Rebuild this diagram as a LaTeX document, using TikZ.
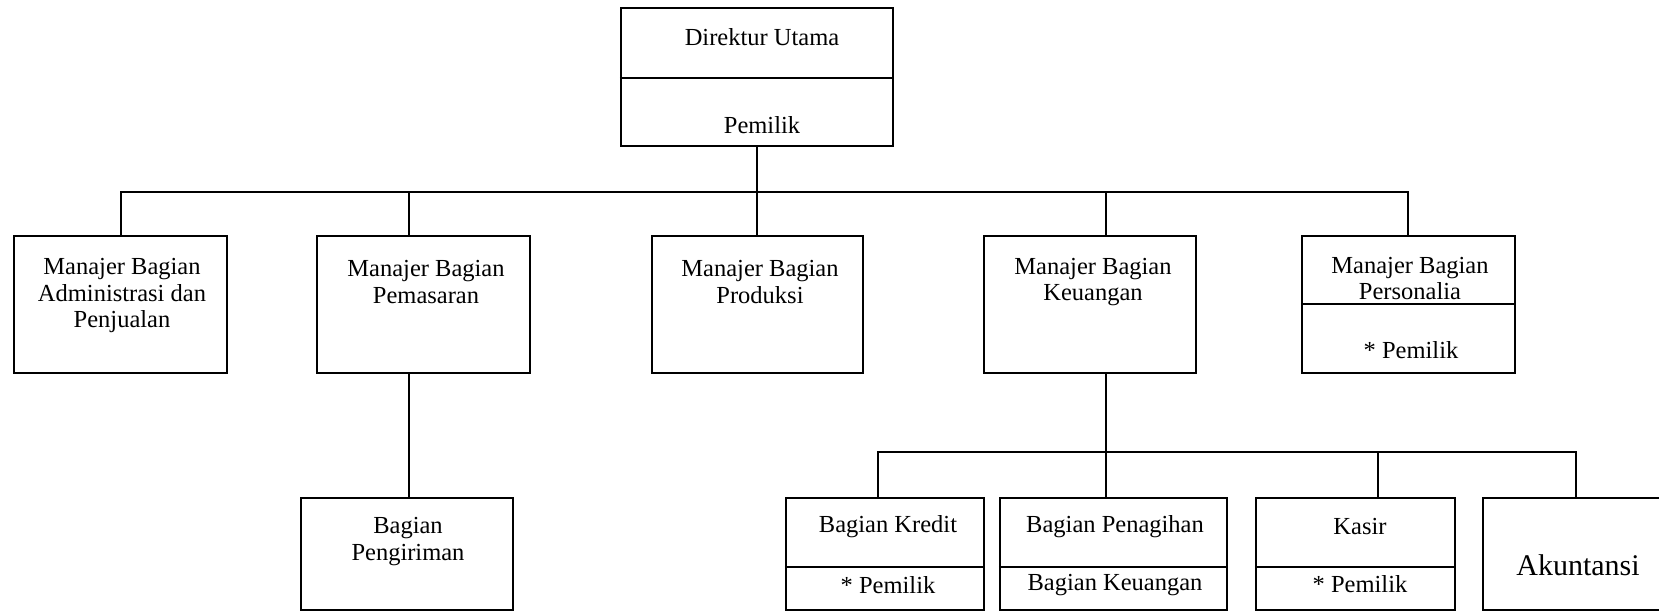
\documentclass[tikz,border=0pt]{standalone}
\usepackage{fontspec}
\setmainfont{Liberation Serif}
\begin{document}
\begin{tikzpicture}[x=1pt,y=-1pt,
  line width=2.1pt, line cap=rect,
  box/.style={draw, rectangle, inner sep=0pt, line width=2.1pt},
  lbl/.style={inner sep=0pt, align=center, font=\fontsize{24.5}{26.5}\selectfont},
  biglbl/.style={inner sep=0pt, align=center, font=\fontsize{30}{33}\selectfont},
  wire/.style={line width=2.1pt},
  divider/.style={line width=2.1pt, line cap=butt}]
\useasboundingbox (0,0) rectangle (1659,612);
\clip (0,0) rectangle (1659,612);

% top box
\node[box, minimum width=272pt, minimum height=138pt] (dir) at (757,77) {};
\draw[divider] (dir.west |- 0,78) -- (dir.east |- 0,78);
\node[lbl] (dirT) at (762,37) {Direktur Utama};
\node[lbl] (dirB) at (762,125) {Pemilik};

% managers
\node[box, minimum width=213pt, minimum height=137pt] (m1) at (120.5,304.5) {};
\node[box, minimum width=213pt, minimum height=137pt] (m2) at (423.5,304.5) {};
\node[box, minimum width=211pt, minimum height=137pt] (m3) at (757.5,304.5) {};
\node[box, minimum width=212pt, minimum height=137pt] (m4) at (1090,304.5) {};
\node[box, minimum width=213pt, minimum height=137pt] (m5) at (1408.5,304.5) {};
\draw[divider] (m5.west |- 0,304) -- (m5.east |- 0,304);

\node[lbl] (m1T) at (122,295.5) {Manajer Bagian\\Administrasi dan\\Penjualan};
\node[lbl] (m2T) at (426,282) {Manajer Bagian\\Pemasaran};
\node[lbl] (m3T) at (760,282) {Manajer Bagian\\Produksi};
\node[lbl] (m4T) at (1093,282) {Manajer Bagian\\Keuangan};
\node[lbl] (m5T) at (1410,278.5) {Manajer Bagian\\Personalia};
\node[lbl] (m5B) at (1411,350) {* Pemilik};

% lower units
\node[box, minimum width=212pt, minimum height=112pt] (kirim) at (407,554) {};
\node[box, minimum width=198pt, minimum height=112pt] (kredit) at (885,554) {};
\node[box, minimum width=227pt, minimum height=112pt] (tagih) at (1113.5,554) {};
\node[box, minimum width=199pt, minimum height=112pt] (kasir) at (1355.5,554) {};
\node[box, minimum width=188pt, minimum height=112pt] (akun) at (1577,554) {};
\draw[divider] (kredit.west |- 0,567) -- (kredit.east |- 0,567);
\draw[divider] (tagih.west |- 0,567) -- (tagih.east |- 0,567);
\draw[divider] (kasir.west |- 0,567) -- (kasir.east |- 0,567);

\node[lbl] (kirimT) at (408,541.5) {Bagian\\Pengiriman};
\node[lbl] (kreditT) at (888,527) {Bagian Kredit};
\node[lbl] (kreditB) at (888,585) {* Pemilik};
\node[lbl] (tagihT) at (1115,527) {Bagian Penagihan};
\node[lbl] (tagihB) at (1115,585) {Bagian Keuangan};
\node[lbl] (kasirT) at (1360,527) {Kasir};
\node[lbl] (kasirB) at (1360,584) {* Pemilik};
\node[biglbl] (akunT) at (1578,565) {Akuntansi};

% upper bus and its junctions
\coordinate (j1) at (121,192);
\coordinate (j2) at (409,192);
\coordinate (j3) at (757,192);
\coordinate (j4) at (1106,192);
\coordinate (j5) at (1408,192);
\draw[wire] (dir.south) -- (j3);
\draw[wire] (j1) -- (j5);
\draw[wire] (j1) -- (j1 |- m1.north);
\draw[wire] (j2) -- (j2 |- m2.north);
\draw[wire] (j3) -- (j3 |- m3.north);
\draw[wire] (j4) -- (j4 |- m4.north);
\draw[wire] (j5) -- (j5 |- m5.north);

% Pemasaran to Pengiriman
\draw[wire] (j2 |- m2.south) -- (j2 |- kirim.north);

% lower bus under Keuangan
\coordinate (k1) at (878,452);
\coordinate (k2) at (1106,452);
\coordinate (k3) at (1378,452);
\coordinate (k4) at (1576,452);
\draw[wire] (k2 |- m4.south) -- (k2);
\draw[wire] (k1) -- (k4);
\draw[wire] (k1) -- (k1 |- kredit.north);
\draw[wire] (k2) -- (k2 |- tagih.north);
\draw[wire] (k3) -- (k3 |- kasir.north);
\draw[wire] (k4) -- (k4 |- akun.north);
\end{tikzpicture}
\end{document}
